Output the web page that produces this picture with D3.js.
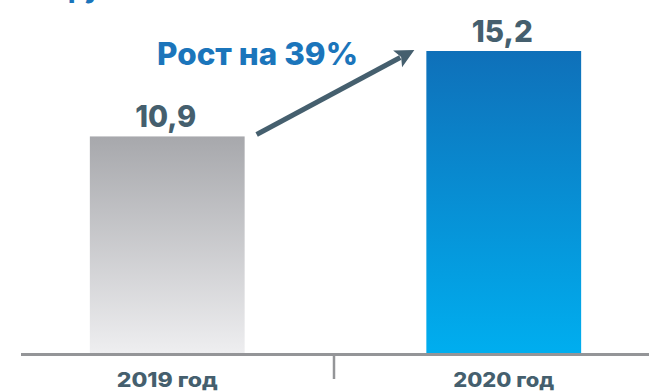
<!DOCTYPE html>
<html>
<head>
<meta charset="utf-8">
<script src="https://cdn.jsdelivr.net/npm/d3@7"></script>
<style>
  html, body { margin: 0; padding: 0; background: #ffffff; }
  svg { display: block; font-family: Inter, "Open Sans", "Liberation Sans", sans-serif; }
</style>
</head>
<body>
<div id="chart"></div>
<script>
// Revenue by year, with the growth note between the two bars
const categories = ["2019 год", "2020 год"];
const values = [10.9, 15.2];
const valueLabels = ["10,9", "15,2"];
const growthLabel = "Рост на 39%";
const unitLabel = "руб.";

const W = 649, H = 391;
const baseY = 353;

const svg = d3.select("#chart").append("svg")
  .attr("width", W).attr("height", H);

const defs = svg.append("defs");
const gradGray = defs.append("linearGradient")
  .attr("id", "gGray").attr("x1", 0).attr("y1", 0).attr("x2", 0).attr("y2", 1);
gradGray.append("stop").attr("offset", "0%").attr("stop-color", "#a7a8ac");
gradGray.append("stop").attr("offset", "100%").attr("stop-color", "#eeeef0");
const gradBlue = defs.append("linearGradient")
  .attr("id", "gBlue").attr("x1", 0).attr("y1", 0).attr("x2", 0).attr("y2", 1);
gradBlue.append("stop").attr("offset", "0%").attr("stop-color", "#0f70b9");
gradBlue.append("stop").attr("offset", "100%").attr("stop-color", "#00aeef");
const fills = ["url(#gGray)", "url(#gBlue)"];

const x = d3.scaleBand().domain(categories).range([-1, 672])
  .paddingInner(0.54).paddingOuter(0.27);
const y = d3.scaleLinear().domain([0, d3.max(values)]).range([baseY, 51]);
const bw = x.bandwidth();

// bars
svg.append("g").selectAll("rect").data(categories).join("rect")
  .attr("x", d => x(d))
  .attr("y", (d, i) => y(values[i]))
  .attr("width", bw)
  .attr("height", (d, i) => baseY - y(values[i]))
  .attr("fill", (d, i) => fills[i]);

// value labels
svg.append("g").selectAll("text").data(categories).join("text")
  .attr("x", d => x(d) + bw / 2 - 1.5)
  .attr("y", (d, i) => y(values[i]) - 9)
  .attr("text-anchor", "middle")
  .attr("font-size", 30)
  .attr("font-weight", 800)
  .attr("fill", "#455f6e")
  .attr("textLength", 61)
  .attr("lengthAdjust", "spacingAndGlyphs")
  .text((d, i) => valueLabels[i]);

// axis line and the divider tick between the categories
svg.append("line")
  .attr("x1", 21).attr("x2", W)
  .attr("y1", baseY + 1.5).attr("y2", baseY + 1.5)
  .attr("stroke", "#949598").attr("stroke-width", 3);
const midX = (x(categories[0]) + bw + x(categories[1])) / 2 - 1.5;
svg.append("line")
  .attr("x1", midX).attr("x2", midX)
  .attr("y1", baseY + 2).attr("y2", 379)
  .attr("stroke", "#949598").attr("stroke-width", 2.5);

// category labels
svg.append("g").selectAll("text").data(categories).join("text")
  .attr("x", d => x(d) + bw / 2)
  .attr("y", 386.5)
  .attr("text-anchor", "middle")
  .attr("font-size", 20)
  .attr("font-weight", 800)
  .attr("fill", "#455f6e")
  .attr("textLength", 101)
  .attr("lengthAdjust", "spacingAndGlyphs")
  .text(d => d);

// growth arrow
const x0 = x(categories[0]) + bw + 12, y0 = y(values[0]) - 2;
const x1 = x(categories[1]) - 12, y1 = y(values[1]) - 1;
const ang = Math.atan2(y1 - y0, x1 - x0);
const headLen = 19, headHalf = 9.5;
const bx = x1 - headLen * Math.cos(ang), by = y1 - headLen * Math.sin(ang);
svg.append("line")
  .attr("x1", x0).attr("y1", y0)
  .attr("x2", bx + 3 * Math.cos(ang)).attr("y2", by + 3 * Math.sin(ang))
  .attr("stroke", "#455f6e").attr("stroke-width", 5);
svg.append("path")
  .attr("d", d3.line()([
    [x1, y1],
    [bx + headHalf * Math.sin(ang), by - headHalf * Math.cos(ang)],
    [bx + 4 * Math.cos(ang), by + 4 * Math.sin(ang)],
    [bx - headHalf * Math.sin(ang), by + headHalf * Math.cos(ang)]
  ]) + "Z")
  .attr("fill", "#455f6e");

// growth note
svg.append("text")
  .attr("x", 157).attr("y", 65)
  .attr("font-size", 31)
  .attr("font-weight", 800)
  .attr("fill", "#1b75bb")
  .attr("textLength", 201)
  .attr("lengthAdjust", "spacingAndGlyphs")
  .text(growthLabel);

// unit line above the chart (mostly outside the frame)
svg.append("text")
  .attr("x", 68).attr("y", -2)
  .attr("font-size", 26)
  .attr("font-weight", 800)
  .attr("fill", "#1b75bb")
  .text(unitLabel);
</script>
</body>
</html>
